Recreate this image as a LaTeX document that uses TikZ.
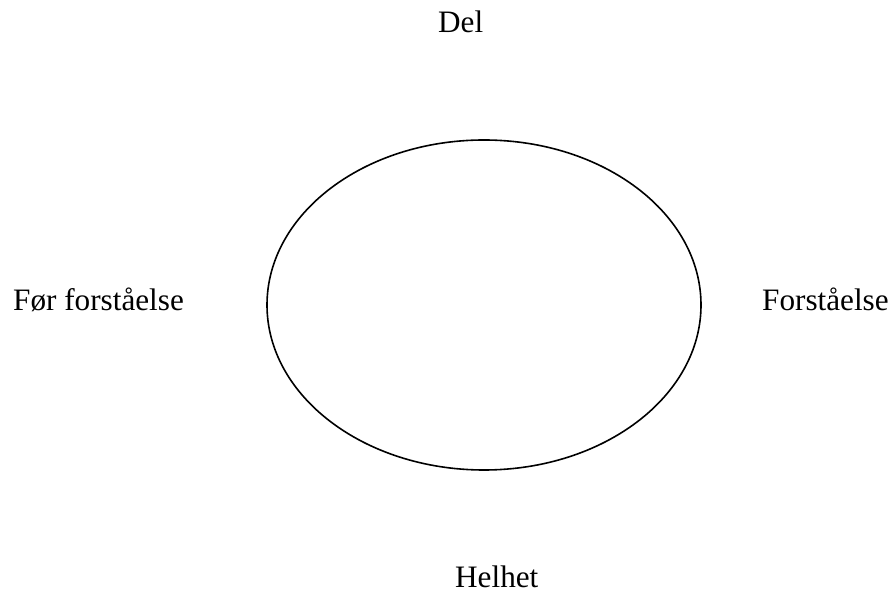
\documentclass[tikz,border=0pt]{standalone}
\usepackage{fontspec}
\setmainfont{Liberation Serif}
\begin{document}
\begin{tikzpicture}[x=1pt,y=1pt,
  lbl/.style={anchor=base west,inner sep=0pt,font=\fontsize{31.2}{37}\selectfont}]
\useasboundingbox (0,0) rectangle (895,595);
\draw[line width=1.6pt] (484,290) ellipse [x radius=217, y radius=165];
\node[lbl] (del) at (438,562) {Del};
\node[lbl] (for) at (13,284) {Før forståelse};
\node[lbl] (fst) at (762,284) {Forståelse};
\node[lbl] (hel) at (455,8) {Helhet};
\end{tikzpicture}
\end{document}
